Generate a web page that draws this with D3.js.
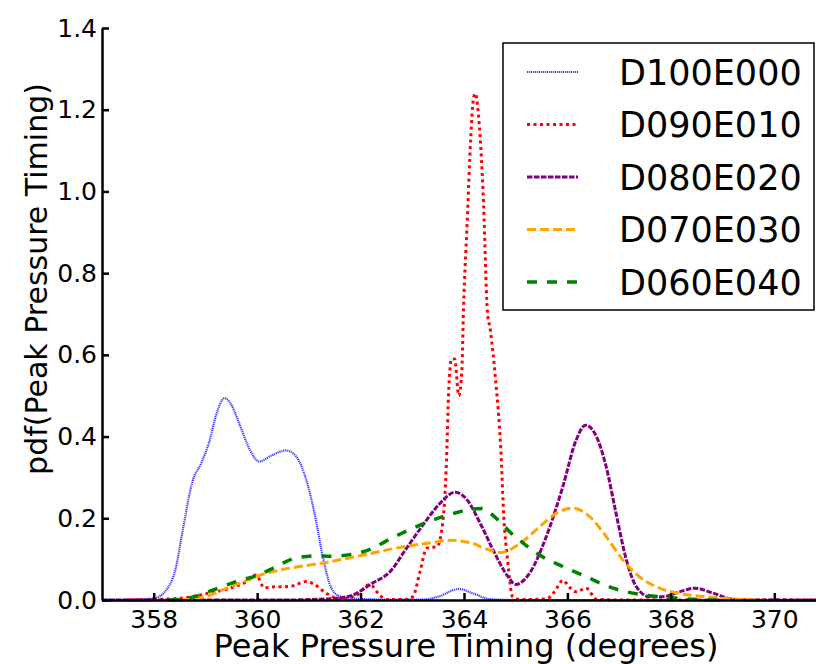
<!DOCTYPE html>
<html>
<head>
<meta charset="utf-8">
<script src="https://cdn.jsdelivr.net/npm/d3@7"></script>
<style>
  body { margin: 0; background: #fff; }
  svg { display: block; font-family: "DejaVu Sans", sans-serif; }
</style>
</head>
<body>
<div id="container"></div>
<script>
var width = 816;
var height = 664;

// values, [timing, pdf]
var d100e000 = [[357.0, 0], [357.6, 0.001], [358.0, 0.004], [358.24, 0.024], [358.43, 0.08], [358.56, 0.17],
    [358.75, 0.29], [358.92, 0.335], [359.08, 0.39], [359.2, 0.45], [359.37, 0.494], [359.5, 0.478],
    [359.66, 0.43], [359.85, 0.37], [360.04, 0.339], [360.3, 0.355], [360.56, 0.366], [360.75, 0.352],
    [360.95, 0.294], [361.11, 0.212], [361.27, 0.106], [361.4, 0.04], [361.55, 0.012], [361.8, 0.004],
    [362.5, 0.001], [363.2, 0.001], [363.5, 0.008], [363.9, 0.027], [364.2, 0.015], [364.5, 0.002],
    [365.0, 0], [371.0, 0]];

var d090e010 = [[357.5, 0], [358.5, 0.004], [359.0, 0.015], [359.5, 0.03], [359.8, 0.045], [359.98, 0.061],
    [360.14, 0.03], [360.3, 0.032], [360.63, 0.033], [360.95, 0.045], [361.1, 0.039], [361.33, 0.017],
    [361.6, 0.003], [361.9, 0.01], [362.18, 0.038], [362.35, 0.015], [362.5, 0.001], [362.9, 0.001],
    [363.02, 0.01], [363.15, 0.07], [363.28, 0.127], [363.48, 0.131], [363.6, 0.203], [363.67, 0.372],
    [363.7, 0.5], [363.76, 0.59], [363.82, 0.59], [363.9, 0.5], [363.96, 0.567], [363.99, 0.71],
    [364.06, 0.92], [364.13, 1.13], [364.18, 1.225], [364.22, 1.24], [364.27, 1.2], [364.38, 0.964],
    [364.45, 0.71], [364.51, 0.66], [364.61, 0.54], [364.71, 0.372], [364.77, 0.203], [364.84, 0.1],
    [364.94, 0.008], [365.1, 0.001], [365.6, 0.003], [365.75, 0.02], [365.91, 0.048], [366.05, 0.03],
    [366.17, 0.02], [366.36, 0.029], [366.56, 0.002], [367.0, 0], [371.0, 0]];

var d080e020 = [[357.0, 0], [360.5, 0], [361.0, 0.001], [361.4, 0.003], [361.8, 0.01], [362.24, 0.042],
    [362.56, 0.068], [362.89, 0.127], [363.22, 0.186], [363.54, 0.237], [363.83, 0.264], [364.06, 0.245],
    [364.32, 0.186], [364.58, 0.118], [364.84, 0.059], [365.0, 0.038], [365.27, 0.066], [365.59, 0.155],
    [365.91, 0.277], [366.17, 0.392], [366.35, 0.428], [366.56, 0.4], [366.75, 0.326], [366.94, 0.212],
    [367.14, 0.098], [367.33, 0.033], [367.59, 0.008], [367.84, 0.008], [368.17, 0.02], [368.46, 0.029],
    [368.81, 0.017], [369.2, 0.002], [369.6, 0], [371.0, 0]];

var d070e030 = [[358.3, 0], [358.7, 0.002], [359.01, 0.008], [359.33, 0.025], [359.66, 0.041], [360.04, 0.06],
    [360.43, 0.073], [360.88, 0.083], [361.33, 0.092], [362.05, 0.11], [362.69, 0.127], [363.35, 0.14],
    [363.74, 0.146], [364.13, 0.14], [364.45, 0.124], [364.71, 0.116], [365.07, 0.137], [365.46, 0.179],
    [365.78, 0.212], [366.1, 0.225], [366.43, 0.204], [366.75, 0.155], [367.07, 0.098], [367.39, 0.057],
    [367.78, 0.029], [368.17, 0.016], [368.68, 0.008], [369.27, 0.002], [369.8, 0]];

var d060e040 = [[358.3, 0], [358.69, 0.005], [359.14, 0.024], [359.59, 0.045], [360.04, 0.062], [360.37, 0.082],
    [360.75, 0.103], [361.2, 0.108], [361.4, 0.107], [362.05, 0.118], [362.69, 0.157], [363.28, 0.19],
    [363.8, 0.212], [364.18, 0.223], [364.35, 0.224], [364.51, 0.212], [364.69, 0.192], [364.9, 0.165],
    [365.07, 0.147], [365.46, 0.11], [365.91, 0.082], [366.36, 0.057], [366.88, 0.029], [367.39, 0.014],
    [367.91, 0.007], [368.42, 0.002], [369.0, 0]];

var seriesNames = ["D100E000", "D090E010", "D080E020", "D070E030", "D060E040"];
var seriesData = [d100e000, d090e010, d080e020, d070e030, d060e040];
var xTicks = [358, 360, 362, 364, 366, 368, 370];
var yTicks = [0.0, 0.2, 0.4, 0.6, 0.8, 1.0, 1.2, 1.4];

// line looks per series
var colors = ["#3a3aff", "#ff0000", "#800080", "#ffa500", "#008000"];
var dashes = ["1.2,0.8", "3,3.5", "5.5,1.5", "9,4", "10,10"];
var widths = [2.2, 3, 3, 3, 3.5];

var xScale = d3.scaleLinear().domain([357, 371]).range([102, 826]);
var yScale = d3.scaleLinear().domain([0, 1.4]).range([600, 28]);

var svg = d3.select("#container")
    .append("svg")
    .attr("width", width)
    .attr("height", height);

var line = d3.line()
    .x(function (d) { return xScale(d[0]); })
    .y(function (d) { return yScale(d[1]); })
    .curve(d3.curveMonotoneX);

svg.selectAll("path.series")
    .data(seriesData)
    .enter()
    .append("path")
    .attr("class", "series")
    .attr("d", line)
    .attr("fill", "none")
    .attr("stroke", function (d, i) { return colors[i]; })
    .attr("stroke-width", function (d, i) { return widths[i]; })
    .attr("stroke-dasharray", function (d, i) { return dashes[i]; });

// axes, ticks point inward
var xAxis = d3.axisBottom(xScale).tickValues(xTicks).tickSizeInner(-7).tickSizeOuter(0).tickPadding(10);
var gx = svg.append("g")
    .attr("transform", "translate(0,600)")
    .call(xAxis);

var yAxis = d3.axisLeft(yScale).tickValues(yTicks).tickSizeInner(-7).tickSizeOuter(0).tickPadding(5)
    .tickFormat(d3.format(".1f"));
var gy = svg.append("g")
    .attr("transform", "translate(102,0)")
    .call(yAxis);

[gx, gy].forEach(function (g) {
    g.select(".domain").attr("stroke", "#000").attr("stroke-width", 2.5);
    g.selectAll(".tick line").attr("stroke", "#000").attr("stroke-width", 2.5);
    g.selectAll(".tick text")
        .attr("fill", "#000")
        .attr("font-family", "DejaVu Sans")
        .attr("font-size", "25px");
});

// axis labels
svg.append("text")
    .attr("x", xScale(364) + 2)
    .attr("y", 657)
    .attr("text-anchor", "middle")
    .attr("font-size", "32px")
    .text("Peak Pressure Timing (degrees)");

svg.append("text")
    .attr("transform", "rotate(-90)")
    .attr("x", -279)
    .attr("y", 47)
    .attr("text-anchor", "middle")
    .attr("font-size", "30px")
    .text("pdf(Peak Pressure Timing)");

// legend
var legend = svg.append("g");
legend.append("rect")
    .attr("x", 503)
    .attr("y", 43)
    .attr("width", 311)
    .attr("height", 267)
    .attr("fill", "#fff")
    .attr("stroke", "#000")
    .attr("stroke-width", 1.5);

var rows = legend.selectAll("g.row")
    .data(seriesNames)
    .enter()
    .append("g")
    .attr("class", "row")
    .attr("transform", function (d, i) { return "translate(0," + (72 + i * 52.5) + ")"; });

rows.append("line")
    .attr("x1", 527)
    .attr("x2", 578)
    .attr("stroke", function (d, i) { return colors[i]; })
    .attr("stroke-width", function (d, i) { return widths[i]; })
    .attr("stroke-dasharray", function (d, i) { return dashes[i]; });

rows.append("text")
    .attr("x", 619)
    .attr("dy", "0.36em")
    .attr("font-size", "35px")
    .text(function (d) { return d; });
</script>
</body>
</html>
